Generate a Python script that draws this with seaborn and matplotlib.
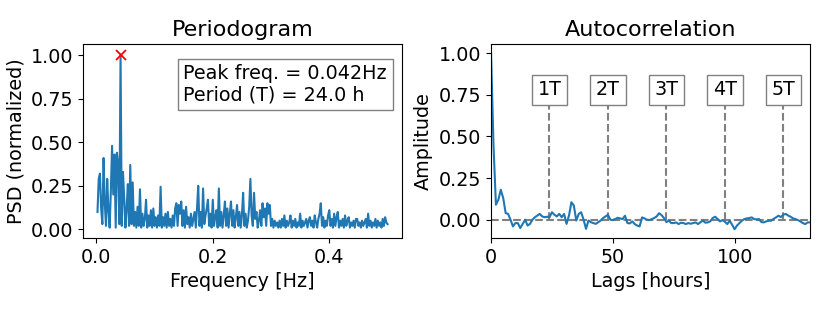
import numpy as np
import pandas as pd
import matplotlib
matplotlib.use("Agg")
import matplotlib.pyplot as plt
import seaborn as sns

# ---------------- data ----------------
n_samples = 480  # hourly samples
psd = [
    0.10, 0.29, 0.32, 0.12, 0.03, 0.41, 0.15, 0.02, 0.29, 0.11,
    0.01, 0.22, 0.48, 0.20, 0.43, 0.01, 0.44, 0.38, 0.03, 1.00,
    0.02, 0.33, 0.18, 0.01, 0.12, 0.26, 0.02, 0.37, 0.03, 0.27,
    0.02, 0.10, 0.01, 0.13, 0.02, 0.23, 0.01, 0.09, 0.02, 0.06,
    0.17, 0.01, 0.08, 0.02, 0.11, 0.01, 0.12, 0.02, 0.07, 0.01,
    0.08, 0.02, 0.245, 0.01, 0.07, 0.02, 0.09, 0.01, 0.10, 0.02,
    0.06, 0.01, 0.08, 0.02, 0.12, 0.15, 0.02, 0.14, 0.09, 0.16,
    0.02, 0.11, 0.01, 0.13, 0.03, 0.07, 0.01, 0.09, 0.02, 0.06,
    0.10, 0.01, 0.12, 0.25, 0.02, 0.10, 0.01, 0.235, 0.03, 0.08,
    0.12, 0.17, 0.02, 0.09, 0.01, 0.17, 0.02, 0.07, 0.11, 0.01,
    0.235, 0.02, 0.10, 0.01, 0.08, 0.16, 0.02, 0.12, 0.01, 0.09,
    0.16, 0.02, 0.11, 0.01, 0.07, 0.14, 0.02, 0.10, 0.01, 0.08,
    0.21, 0.02, 0.09, 0.01, 0.05, 0.13, 0.29, 0.08, 0.02, 0.21,
    0.06, 0.10, 0.01, 0.05, 0.11, 0.02, 0.15, 0.07, 0.12, 0.02,
    0.15, 0.09, 0.14, 0.02, 0.06, 0.01, 0.05, 0.02, 0.04, 0.01,
    0.05, 0.01, 0.06, 0.02, 0.08, 0.01, 0.05, 0.02, 0.04, 0.08,
    0.01, 0.05, 0.02, 0.06, 0.01, 0.04, 0.02, 0.09, 0.01, 0.05,
    0.02, 0.04, 0.06, 0.01, 0.05, 0.07, 0.02, 0.05, 0.01, 0.08,
    0.04, 0.01, 0.06, 0.09, 0.15, 0.02, 0.07, 0.01, 0.05, 0.02,
    0.08, 0.11, 0.02, 0.06, 0.01, 0.09, 0.02, 0.07, 0.10, 0.01,
    0.05, 0.02, 0.06, 0.01, 0.08, 0.02, 0.05, 0.07, 0.01, 0.04,
    0.02, 0.05, 0.01, 0.06, 0.06, 0.02, 0.04, 0.01, 0.05, 0.02,
    0.04, 0.06, 0.01, 0.09, 0.02, 0.05, 0.01, 0.04, 0.02, 0.06,
    0.01, 0.05, 0.02, 0.04, 0.01, 0.06, 0.02, 0.07, 0.04, 0.03,
]
freqs = np.arange(1, len(psd) + 1) / n_samples

acf = [
    1.00, 0.45, 0.09, 0.12, 0.18, 0.13, 0.04, 0.035, 0.00, -0.04,
    -0.02, -0.02, -0.05, -0.025, 0.00, -0.035, -0.025, 0.00, 0.015, 0.025,
    0.035, 0.02, 0.015, 0.018, 0.015, 0.045, 0.03, 0.02, 0.035, 0.015,
    0.035, -0.025, 0.025, 0.105, 0.085, -0.005, 0.035, 0.045, 0.00, -0.055,
    -0.005, -0.015, -0.02, -0.025, -0.015, -0.005, 0.01, 0.02, 0.03, 0.00,
    -0.002, 0.004, 0.012, 0.008, 0.004, 0.024, -0.02, -0.022, -0.01, -0.026,
    -0.035, -0.04, 0.014, 0.008, 0.00, -0.002, 0.004, 0.01, 0.02, 0.039,
    0.028, 0.01, -0.014, -0.006, -0.02, -0.02, -0.016, -0.026, -0.018, -0.02,
    -0.026, -0.02, -0.024, -0.02, -0.016, -0.026, -0.015, -0.005, -0.018, -0.016,
    -0.01, 0.01, 0.018, 0.005, -0.01, -0.002, -0.012, -0.026, -0.006, -0.03,
    -0.057, -0.035, -0.02, -0.006, 0.004, 0.008, 0.01, 0.014, 0.004, 0.002,
    0.004, -0.014, -0.016, -0.01, -0.006, -0.006, 0.005, 0.014, 0.024, 0.016,
    0.03, 0.035, 0.025, 0.018, 0.008, 0.004, -0.002, -0.01, -0.02, -0.026,
    -0.016, -0.016,
]
lags = np.arange(len(acf))

peak_freq = 0.042
period_h = 24.0
multiples = [1, 2, 3, 4, 5]
multiple_labels = ["1T", "2T", "3T", "4T", "5T"]

# ---------------- figure ----------------
plt.rcParams["font.size"] = 13.8
plt.rcParams["font.family"] = ["DejaVu Sans"]

fig, (ax1, ax2) = plt.subplots(1, 2, figsize=(8.3, 3.12), dpi=100)
fig.subplots_adjust(left=0.100, right=0.976, bottom=0.237, top=0.859, wspace=0.279)

blue = "#1f77b4"

# Periodogram
df_p = pd.DataFrame({"freq": freqs, "psd": psd})
sns.lineplot(data=df_p, x="freq", y="psd", ax=ax1, color=blue, linewidth=1.5)
imax = int(np.argmax(psd))
ax1.plot(freqs[imax], psd[imax], "x", color="red", markersize=7, mew=1.3)
ax1.set_title("Periodogram", fontsize=16)
ax1.set_xlabel("Frequency [Hz]")
ax1.set_ylabel("PSD (normalized)")
ax1.set_xticks([0.0, 0.2, 0.4])
ax1.set_yticks([0.0, 0.25, 0.5, 0.75, 1.0])
ax1.set_yticklabels(["0.00", "0.25", "0.50", "0.75", "1.00"])
ax1.set_ylim(-0.05, 1.065)
ax1.text(0.315, 0.895,
         f"Peak freq. = {peak_freq:.3f}Hz\nPeriod (T) = {period_h:.1f} h",
         transform=ax1.transAxes, va="top", ha="left", linespacing=1.15,
         bbox=dict(facecolor="white", edgecolor="gray", boxstyle="square,pad=0.3"))

# Autocorrelation
df_a = pd.DataFrame({"lag": lags, "acf": acf})
ax2.axhline(0, color="gray", linestyle="--", linewidth=1.5)
for m, lab in zip(multiples, multiple_labels):
    x = m * period_h
    ax2.vlines(x, 0, 0.695, color="gray", linestyle="--", linewidth=1.5)
    ax2.text(x, 0.78, lab, ha="center", va="center",
             bbox=dict(facecolor="white", edgecolor="gray", boxstyle="square,pad=0.3"))
sns.lineplot(data=df_a, x="lag", y="acf", ax=ax2, color=blue, linewidth=1.5)
ax2.set_title("Autocorrelation", fontsize=16)
ax2.set_xlabel("Lags [hours]")
ax2.set_ylabel("Amplitude")
ax2.set_xlim(0, 131)
ax2.set_xticks([0, 50, 100])
ax2.set_yticks([0.0, 0.25, 0.5, 0.75, 1.0])
ax2.set_yticklabels(["0.00", "0.25", "0.50", "0.75", "1.00"])
ax2.set_ylim(-0.11, 1.055)

fig.savefig("out.png", dpi=100)
